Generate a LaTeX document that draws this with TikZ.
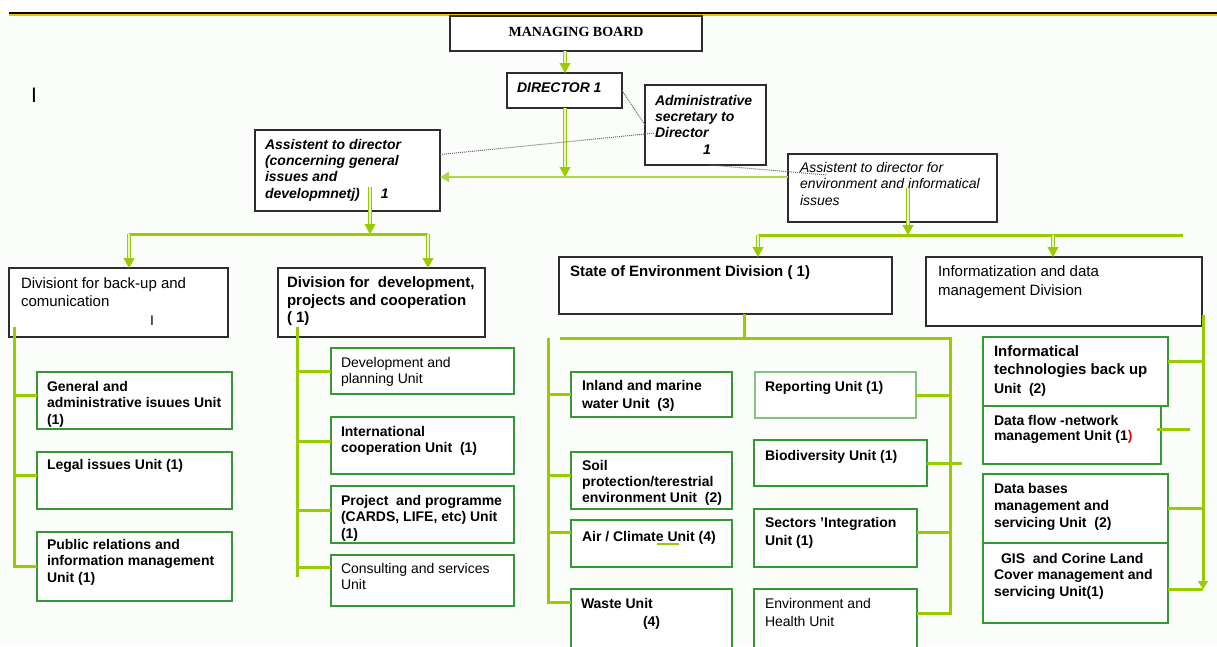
\documentclass[tikz,border=0pt]{standalone}
\usepackage{fontspec}
\setmainfont{Liberation Sans}
\newfontfamily\tnr{Liberation Serif}
\usetikzlibrary{arrows.meta}
\definecolor{lgreen}{RGB}{153,204,0}
\definecolor{hgreen}{RGB}{172,216,80}
\definecolor{dgap}{RGB}{232,244,200}
\definecolor{bgreen}{RGB}{51,153,51}
\definecolor{rgreen}{RGB}{128,196,128}
\definecolor{dgray}{RGB}{45,45,45}
\definecolor{bgc}{RGB}{251,253,251}
\definecolor{gold}{RGB}{240,192,0}
\newcommand\fA{\fontsize{14}{16.5}\selectfont}
\newcommand\fB{\fontsize{15}{17.5}\selectfont}
\newcommand\orgbox[6]{\node[#1, anchor=north west, minimum width=#5pt, minimum height=#6pt] (#2) at (#3,#4) {};}
\tikzset{
  every node/.style={inner sep=0pt, outer sep=0pt},
  dbox/.style={draw=dgray, line width=1.2pt, fill=white},
  ubox/.style={draw=bgreen, line width=1.1pt, fill=white},
  rbox/.style={draw=rgreen, line width=1.6pt, fill=white},
  t/.style={anchor=north west, align=left, font=\fA},
  tb/.style={t, font=\fA\bfseries},
  tbi/.style={t, font=\fA\bfseries\itshape},
  ti/.style={t, font=\fA\itshape},
  tB/.style={t, font=\fB\bfseries},
  tR/.style={t, font=\fB},
  gline/.style={draw=lgreen, line width=3pt},
  hline/.style={draw=hgreen, line width=2.4pt},
  dbl/.style={draw=lgreen, double=dgap, double distance=1.8pt, line width=1.2pt, shorten >=5pt},
  tipd/.style={lgreen, line width=0.4pt, -{Triangle[width=11pt,length=10pt]}},
  dots/.style={draw=black!60, densely dotted, line width=1pt},
}
\begin{document}
\begin{tikzpicture}[x=1pt,y=-1pt]
\useasboundingbox (0,0) rectangle (1217,646);
\clip (0,0) rectangle (1217,646);
\fill[white] (0,0) rectangle (1217,646);
\fill[bgc] (0,16) rectangle (1217,646);
\draw[black, line width=1.3pt] (9,13) -- (1217,13);
\draw[gold, line width=1.8pt] (9,15) -- (1217,15);

% ---- boxes ----
\orgbox{dbox}{board}{450}{16}{252}{35}
\orgbox{dbox}{dir}{507}{73}{115}{35}
\orgbox{dbox}{adm}{645}{85}{121}{80}
\orgbox{dbox}{asg}{255}{130}{185}{81}
\orgbox{dbox}{env}{788}{154}{209}{68}
\orgbox{dbox}{bk}{9}{268}{219}{69}
\orgbox{dbox}{dev}{278}{268}{207}{69}
\orgbox{dbox}{soe}{559}{257}{333}{57}
\orgbox{dbox}{inf}{926}{257}{276}{69}
\orgbox{ubox}{gen}{37}{372}{195}{57}
\orgbox{ubox}{leg}{37}{452}{195}{57}
\orgbox{ubox}{pub}{37}{532}{195}{69}
\orgbox{ubox}{dpl}{331}{348}{183}{46}
\orgbox{ubox}{int}{331}{417}{183}{57}
\orgbox{ubox}{prj}{331}{486}{183}{57}
\orgbox{ubox}{con}{331}{555}{183}{51}
\orgbox{ubox}{inl}{571}{372}{161}{45}
\orgbox{rbox}{rep}{755}{372}{161}{46}
\orgbox{ubox}{bio}{754}{440}{173}{46}
\orgbox{ubox}{soil}{571}{452}{161}{57}
\orgbox{ubox}{air}{571}{520}{161}{47}
\orgbox{ubox}{sec}{754}{509}{163}{58}
\orgbox{ubox}{was}{571}{589}{161}{70}
\orgbox{ubox}{ehu}{754}{589}{163}{70}
\orgbox{ubox}{ict}{983}{337}{185}{69}
\orgbox{ubox}{dfl}{983}{406}{178}{58}
\orgbox{ubox}{dbs}{983}{474}{185}{69}
\orgbox{ubox}{gis}{983}{543}{185}{80}

% ---- texts ----
\node[anchor=center, font=\tnr\bfseries\fontsize{14}{16}\selectfont] (board-t) at (576,32) {MANAGING BOARD};
\node[tbi] (dir-t) at (517,83) {DIRECTOR 1};
\node[tbi, font=\fontsize{14}{16.3}\selectfont\bfseries\itshape] (adm-t) at (655,95) {Administrative\\secretary to\\Director\\\hspace*{48pt}1};
\node[tbi, font=\fontsize{14}{16.3}\selectfont\bfseries\itshape] (asg-t) at (265,139) {Assistent to director\\(concerning general\\issues and\\developmnetj)\hspace{21pt}1};
\node[ti] (env-t) at (800,162) {Assistent to director for\\environment and informatical\\issues};
\node[t, font=\fontsize{21}{21}\selectfont] (mark) at (31,88) {I};
\node[tR] (bk-t) at (21,278) {Divisiont for back-up and\\comunication};
\node[t] (bk-m) at (150,316) {I};
\node[tB] (dev-t) at (287,277) {Division for\ \ development,\\projects and cooperation\\( 1)};
\node[tb] (gen-t) at (47,381) {General and\\administrative isuues Unit\\(1)};
\node[tb] (leg-t) at (47,459) {Legal issues Unit (1)};
\node[tb] (pub-t) at (47,539) {Public relations and\\information management\\Unit (1)};
\node[t] (dpl-t) at (341,357) {Development and\\planning Unit};
\node[tb] (int-t) at (341,426) {International\\cooperation Unit\ \ (1)};
\node[tb] (prj-t) at (341,495) {Project\ \ and programme\\(CARDS, LIFE, etc) Unit\\(1)};
\node[t] (con-t) at (341,563) {Consulting and services\\Unit};
\node[tB] (soe-t) at (570,266) {State of Environment Division ( 1)};
\node[tR, font=\fontsize{15}{19}\selectfont] (inf-t) at (938,266) {Informatization and data\\management Division};
\node[tb, font=\fontsize{14}{18}\selectfont\bfseries] (inl-t) at (582,380) {Inland and marine\\water Unit\ \ (3)};
\node[tb] (rep-t) at (765,381) {Reporting Unit (1)};
\node[tb] (bio-t) at (765,450) {Biodiversity Unit (1)};
\node[tb, font=\fontsize{14}{16}\selectfont\bfseries] (soil-t) at (582,460) {Soil\\protection/terestrial\\environment Unit\ \ (2)};
\node[tb] (air-t) at (582,531) {Air / Climate Unit (4)};
\node[tb, font=\fontsize{14}{18}\selectfont\bfseries] (sec-t) at (765,517) {Sectors ’Integration\\Unit (1)};
\node[tb, font=\fontsize{14}{18}\selectfont\bfseries] (was-t) at (581,598) {Waste Unit\\\hspace*{62pt}(4)};
\node[t, font=\fontsize{14}{18}\selectfont] (ehu-t) at (765,598) {Environment and\\Health Unit};
\node[tB, font=\fontsize{15}{18}\selectfont\bfseries] (ict-t) at (994,346) {Informatical\\technologies back up\\[1pt]{\fA Unit\ \ (2)}};
\node[tb, font=\fontsize{14}{15.5}\selectfont\bfseries] (dfl-t) at (994,415) {Data flow -network\\management Unit (1\textcolor{red}{)}};
\node[tb, font=\fontsize{14}{17}\selectfont\bfseries] (dbs-t) at (994,483) {Data bases\\management and\\servicing Unit\ \ (2)};
\node[tb] (gis-t) at (994,553) {\hspace*{7pt}GIS\ \ and Corine Land\\Cover management and\\servicing Unit(1)};

% ---- top connectors ----
\coordinate (j1) at (565,177);
\coordinate (jd) at (dir.north -| j1);
\draw[dbl] (board.south -| j1) -- (jd);
\draw[tipd] (jd) ++(0,-3) -- (jd);
\draw[dbl] (dir.south -| j1) -- (j1);
\draw[tipd] (j1) ++(0,-3) -- (j1);
\draw[hline, -{Triangle[width=10pt,length=9pt]}] (env.west |- j1) -- (asg.east |- j1);

% assistant (general) -> divisions
\coordinate (s2) at (370,187);
\coordinate (j2) at (370,234);
\coordinate (h2a) at (129,234);
\coordinate (h2b) at (428,234);
\coordinate (bkn) at (h2a |- bk.north);
\coordinate (dvn) at (h2b |- dev.north);
\draw[gline] (h2a) -- (h2b);
\draw[dbl] (s2) -- (j2);
\draw[tipd] (j2) ++(0,-3) -- (j2);
\draw[dbl] (h2a) -- (bkn);
\draw[tipd] (bkn) ++(0,-3) -- (bkn);
\draw[dbl] (h2b) -- (dvn);
\draw[tipd] (dvn) ++(0,-3) -- (dvn);

% assistant (environment) -> divisions
\coordinate (s3) at (908,188);
\coordinate (j3) at (908,235);
\coordinate (h3a) at (758,235);
\coordinate (h3b) at (1053,235);
\coordinate (h3c) at (1183,235);
\coordinate (soen) at (h3a |- soe.north);
\coordinate (infn) at (h3b |- inf.north);
\draw[gline] (h3a) -- (h3c);
\draw[dbl] (s3) -- (j3);
\draw[tipd] (j3) ++(0,-3) -- (j3);
\draw[dbl] (h3a) -- (soen);
\draw[tipd] (soen) ++(0,-3) -- (soen);
\draw[dbl] (h3b) -- (infn);
\draw[tipd] (infn) ++(0,-3) -- (infn);

% dotted lines
\draw[dots] (dir.east) -- (adm.west);
\draw[dots] ([yshift=16pt]asg.east) -- ([shift={(10,48)}]adm.north west);
\draw[dots] ([xshift=4pt]adm.south) -- ([shift={(39,21)}]env.north west);

% ---- back-up tree ----
\coordinate (bkL) at (14,327);
\coordinate (genW) at ([yshift=5pt]gen.west);
\coordinate (legW) at ([yshift=5pt]leg.west);
\draw[gline] (bkL) |- (pub.west);
\draw[gline] (genW -| bkL) -- (genW);
\draw[gline] (legW -| bkL) -- (legW);

% ---- development tree ----
\coordinate (dvL) at (297,327);
\coordinate (dvB) at (297,577);
\coordinate (intW) at ([yshift=4pt]int.west);
\coordinate (prjW) at ([yshift=4pt]prj.west);
\coordinate (conW) at ([yshift=13pt]con.west);
\draw[gline] (dvL) -- (dvB);
\draw[gline] (dpl.west -| dvL) -- (dpl.west);
\draw[gline] (intW -| dvL) -- (intW);
\draw[gline] (prjW -| dvL) -- (prjW);
\draw[gline] (conW -| dvL) -- (conW);

% ---- state of environment tree ----
\coordinate (sJ) at (744,338);
\coordinate (sL) at (560,338);
\coordinate (sR) at (950,338);
\coordinate (sLL) at (548,338);
\coordinate (soilW) at ([yshift=5.5pt]soil.west);
\coordinate (airW) at ([yshift=11pt]air.west);
\coordinate (wasW) at ([yshift=22pt]was.west);
\coordinate (secE) at ([yshift=6pt]sec.east);
\coordinate (ehuE) at ([yshift=11pt]ehu.east);
\coordinate (bioX) at ([xshift=35pt]bio.east);
\draw[gline] (soe.south -| sJ) -- (sJ);
\draw[gline] (sL) -- (sR) |- (ehuE);
\draw[gline] (sLL) |- (wasW);
\draw[gline] (inl.west -| sLL) -- (inl.west);
\draw[gline] (soilW -| sLL) -- (soilW);
\draw[gline] (airW -| sLL) -- (airW);
\draw[gline] (rep.east) -- (rep.east -| sR);
\draw[gline] (bio.east) -- (bioX);
\draw[gline] (secE) -- (secE -| sR);
\draw[lgreen, line width=1.5pt] ([shift={(86,24)}]air.north west) -- ([shift={(108,24)}]air.north west);

% ---- informatization tree ----
\coordinate (iT) at (1203,315);
\coordinate (iB) at (1203,589);
\coordinate (ictE) at ([yshift=10.5pt]ict.east);
\coordinate (gisE) at ([yshift=-6pt]gis.east);
\draw[gline] (ictE) -- (ictE -| iT);
\draw[gline] (dbs.east) -- (dbs.east -| iT);
\draw[gline] (gisE) -- (gisE -| iT);
\draw[gline, -{Triangle[width=10pt,length=8pt]}] (iT) -- (iB);
\draw[gline] ([shift={(-4,-6)}]dfl.east) -- ([shift={(29,-6)}]dfl.east);
\end{tikzpicture}
\end{document}
